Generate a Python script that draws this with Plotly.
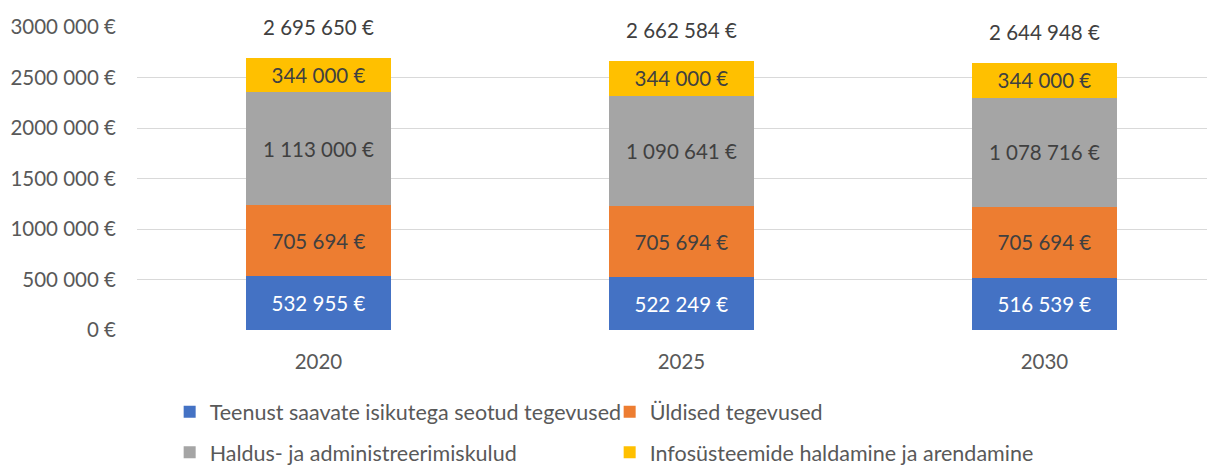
import plotly.graph_objects as go

YEARS = ["2020", "2025", "2030"]
SERIES_NAMES = [
    "Teenust saavate isikutega seotud tegevused",
    "Üldised tegevused",
    "Haldus- ja administreerimiskulud",
    "Infosüsteemide haldamine ja arendamine",
]
TEENUST = [532955, 522249, 516539]
YLDISED = [705694, 705694, 705694]
HALDUS = [1113000, 1090641, 1078716]
INFO = [344000, 344000, 344000]
TOTALS = [2695650, 2662584, 2644948]

Y_TICK_VALS = [0, 500000, 1000000, 1500000, 2000000, 2500000, 3000000]
Y_TICK_TEXT = ["0 €", "500 000 €", "1000 000 €", "1500 000 €",
               "2000 000 €", "2500 000 €", "3000 000 €"]

COLORS = ["#4472C4", "#ED7D31", "#A5A5A5", "#FFC000"]
LABEL_COLORS = ["#FFFFFF", "#404040", "#404040", "#404040"]
FONT = "Lato"
FS = 20.5
FS_LEG = 21.5

fig = go.Figure()
for i, (name, vals) in enumerate(zip(SERIES_NAMES, [TEENUST, YLDISED, HALDUS, INFO])):
    fig.add_trace(go.Bar(
        x=YEARS, y=vals, name=name,
        marker=dict(color=COLORS[i], line=dict(width=0)),
        texttemplate="%{y:,.0f} €",
        textposition="inside", insidetextanchor="middle",
        textangle=0, constraintext="none",
        textfont=dict(family=FONT, size=FS, color=LABEL_COLORS[i]),
        legend="legend" if i < 2 else "legend2",
        hoverinfo="skip",
    ))

for idx, t in enumerate(TOTALS):
    fig.add_annotation(
        x=idx, xref="x", y=t, yref="y",
        text=f"{t:,.0f} €".replace(",", " "),
        showarrow=False, yanchor="middle", yshift=31,
        font=dict(family=FONT, size=FS, color="#404040"),
    )

legend_common = dict(
    orientation="h", xanchor="left", yanchor="middle",
    font=dict(family=FONT, size=FS_LEG, color="#595959"),
    entrywidth=395, entrywidthmode="pixels",
    bgcolor="rgba(0,0,0,0)", traceorder="normal",
)

# page body has an 8px default margin; figure sized to compensate
fig.update_layout(
    width=1207, height=458,
    margin=dict(l=129, r=0, t=18, b=135, autoexpand=False),
    paper_bgcolor="white", plot_bgcolor="white",
    barmode="stack", bargap=0.6,
    separators=", ",
    font=dict(family=FONT, size=FS, color="#595959"),
    showlegend=True,
    legend=dict(x=0.0303, y=-0.2646, **legend_common),
    legend2=dict(x=0.0303, y=-0.398, **legend_common),
    xaxis=dict(
        type="category", range=[-0.5, 2.47],
        showgrid=False, showline=False, zeroline=False,
        ticks="", ticklabelstandoff=16,
        tickfont=dict(family=FONT, size=FS, color="#595959"),
    ),
    yaxis=dict(
        range=[-9901, 3009901],
        tickvals=Y_TICK_VALS, ticktext=Y_TICK_TEXT,
        showgrid=True, gridcolor="#D9D9D9", gridwidth=1,
        showline=False, zeroline=False,
        ticks="", ticklabelstandoff=20,
        tickfont=dict(family=FONT, size=FS, color="#595959"),
    ),
)

fig.write_html("out.html")
